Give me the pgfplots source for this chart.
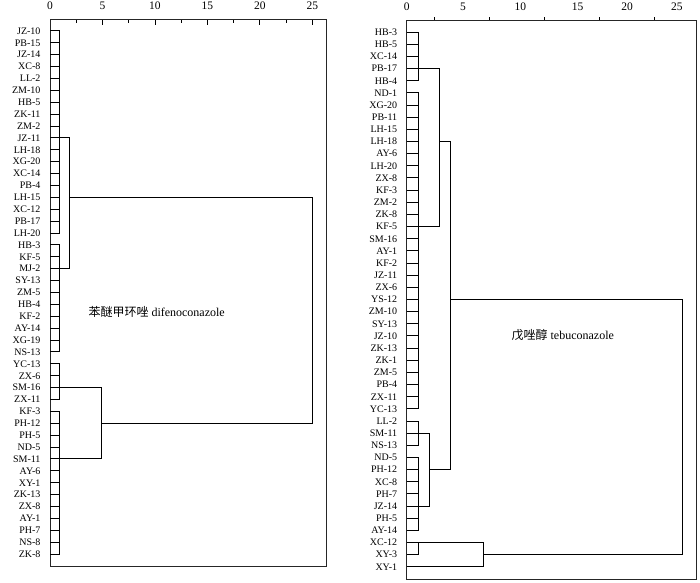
\documentclass[border=0pt]{standalone}
\usepackage{fontspec}
\setmainfont{Liberation Serif}
\newfontfamily\cjk{Noto Sans CJK SC}
\usepackage{pgfplots}
\pgfplotsset{compat=1.18}

\pgfplotsset{
  dendro/.style={
    scale only axis, xmin=0, xmax=26.3, ymin=0, ymax=46, y dir=reverse,
    axis line style={line width=0.8pt, black!85},
    ytick={1,...,45}, ytick style={draw=none},
    yticklabel style={font=\fontsize{10}{12}\selectfont, xshift=-6pt},
    xtick pos=upper, xticklabel pos=upper,
    xticklabel style={font=\fontsize{11.5}{13}\selectfont, yshift=5.5pt},
    x tick style={line width=0.8pt, black},
    /pgf/number format/assume math mode=true,
    clip=false,
  },
  seg/.style={black, line width=1pt, mark=none, forget plot},
}

\begin{document}
\begin{tikzpicture}
\useasboundingbox (0,0) rectangle (700pt,582pt);

% left: difenoconazole
\begin{axis}[dendro,
  at={(50pt,16pt)}, anchor=south west, width=276pt, height=547pt,
  xtick={0,5,...,25}, minor x tick num=1, tick align=inside,
  major tick length=6pt, minor tick length=3.5pt,
  yticklabels={JZ-10,PB-15,JZ-14,XC-8,LL-2,ZM-10,HB-5,ZK-11,ZM-2,JZ-11,LH-18,XG-20,XC-14,PB-4,LH-15,XC-12,PB-17,LH-20,HB-3,KF-5,MJ-2,SY-13,ZM-5,HB-4,KF-2,AY-14,XG-19,NS-13,YC-13,ZX-6,SM-16,ZX-11,KF-3,PH-12,PH-5,ND-5,SM-11,AY-6,XY-1,ZK-13,ZX-8,AY-1,PH-7,NS-8,ZK-8},
]
\addplot[seg, xcomb] coordinates {
 (0.95,1)(0.95,2)(0.95,3)(0.95,4)(0.95,5)(0.95,6)(0.95,7)(0.95,8)(0.95,9)(0.95,10)
 (0.95,11)(0.95,12)(0.95,13)(0.95,14)(0.95,15)(0.95,16)(0.95,17)(0.95,18)(0.95,19)(0.95,20)
 (0.95,21)(0.95,22)(0.95,23)(0.95,24)(0.95,25)(0.95,26)(0.95,27)(0.95,28)(0.95,29)(0.95,30)
 (0.95,31)(0.95,32)(0.95,33)(0.95,34)(0.95,35)(0.95,36)(0.95,37)(0.95,38)(0.95,39)(0.95,40)
 (0.95,41)(0.95,42)(0.95,43)(0.95,44)(0.95,45)};
\addplot[seg, unbounded coords=jump] coordinates {
 (0.95,1)(0.95,18) (nan,nan)
 (0.95,19)(0.95,28) (nan,nan)
 (0.95,29)(0.95,32) (nan,nan)
 (0.95,33)(0.95,45) (nan,nan)
 (0.95,10)(1.9,10)(1.9,21)(0.95,21) (nan,nan)
 (0.95,31)(4.9,31)(4.9,37)(0.95,37) (nan,nan)
 (1.9,15)(25,15)(25,34)(4.9,34)};
\node[anchor=west, inner sep=0pt, font=\fontsize{12}{14}\selectfont] at (axis cs:3.65,24.6) {{\cjk 苯醚甲环唑} difenoconazole};
\end{axis}

% right: tebuconazole
\begin{axis}[dendro,
  at={(406.7pt,3pt)}, anchor=south west, width=290pt, height=559pt,
  xtick={0,5.1,10.3,15.5,20,24.5}, xticklabels={0,5,10,15,20,25},
  minor xtick={2.5,7.5,12.5,17.5,22.5}, tick align=outside,
  major tick length=0pt, minor tick length=3pt,
  yticklabels={HB-3,HB-5,XC-14,PB-17,HB-4,ND-1,XG-20,PB-11,LH-15,LH-18,AY-6,LH-20,ZX-8,KF-3,ZM-2,ZK-8,KF-5,SM-16,AY-1,KF-2,JZ-11,ZX-6,YS-12,ZM-10,SY-13,JZ-10,ZK-13,ZK-1,ZM-5,PB-4,ZX-11,YC-13,LL-2,SM-11,NS-13,ND-5,PH-12,XC-8,PH-7,JZ-14,PH-5,AY-14,XC-12,XY-3,XY-1},
]
\addplot[seg, xcomb] coordinates {
 (1.1,1)(1.1,2)(1.1,3)(1.1,4)(1.1,5)(1.1,6)(1.1,7)(1.1,8)(1.1,9)(1.1,10)
 (1.1,11)(1.1,12)(1.1,13)(1.1,14)(1.1,15)(1.1,16)(1.1,17)(1.1,18)(1.1,19)(1.1,20)
 (1.1,21)(1.1,22)(1.1,23)(1.1,24)(1.1,25)(1.1,26)(1.1,27)(1.1,28)(1.1,29)(1.1,30)
 (1.1,31)(1.1,32)(1.1,33)(1.1,34)(1.1,35)(1.1,36)(1.1,37)(1.1,38)(1.1,39)(1.1,40)
 (1.1,41)(1.1,42)(1.1,43)(1.1,44)(7.0,45)};
\addplot[seg, unbounded coords=jump] coordinates {
 (1.1,1)(1.1,5) (nan,nan)
 (1.1,6)(1.1,32) (nan,nan)
 (1.1,33)(1.1,35) (nan,nan)
 (1.1,36)(1.1,42) (nan,nan)
 (1.1,44)(1.1,43)(7.0,43)(7.0,45) (nan,nan)
 (1.1,4)(3.0,4)(3.0,17)(1.1,17) (nan,nan)
 (1.1,34)(2.1,34)(2.1,40)(1.1,40) (nan,nan)
 (3.0,10)(4.0,10)(4.0,37)(2.1,37) (nan,nan)
 (4.0,23)(25,23)(25,44)(7.0,44)};
\node[anchor=west, inner sep=0pt, font=\fontsize{12}{14}\selectfont] at (axis cs:9.5,25.9) {{\cjk 戊唑醇} tebuconazole};
\end{axis}
\end{tikzpicture}
\end{document}
